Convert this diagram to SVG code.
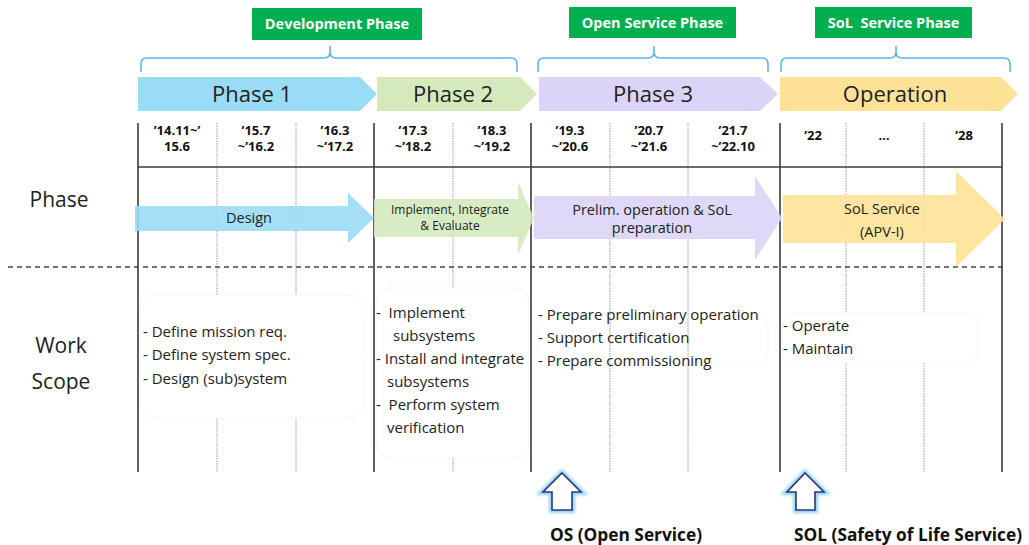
<svg xmlns="http://www.w3.org/2000/svg" width="1029" height="545" viewBox="0 0 1029 545">
  <defs>
    <style>
      text { font-family: "Open Sans", "Noto Sans", "DejaVu Sans", sans-serif; fill: #222; }
      .tag { fill: #00b050; }
      .tagtxt { fill: #fff; font-weight: bold; font-size: 14.5px; text-anchor: middle; }
      .brace { fill: none; stroke: #5bb7e5; stroke-width: 1.6; }
      .phase { font-size: 22px; text-anchor: middle; fill: #222; }
      .date { font-size: 13px; font-weight: bold; text-anchor: middle; fill: #111; }
      .solid { stroke: #3a3a3a; stroke-width: 1.6; }
      .dot { stroke: #9a9a9a; stroke-width: 1; stroke-dasharray: 1.5 1; }
      .row { font-size: 21px; text-anchor: middle; fill: #222; }
      .arrtxt { font-size: 14.5px; text-anchor: middle; fill: #222; }
      .small { font-size: 12px; text-anchor: middle; fill: #222; }
      .scope { font-size: 15px; fill: #222; }
      .card { fill: #fff; stroke: #f5f5f5; stroke-width: 1; }
      .up { fill: #fff; stroke: #2e3580; stroke-width: 1.6; stroke-linejoin: miter; }
      .glow { fill: none; stroke: #8fd3f0; stroke-width: 6; filter: url(#soft); }
      .foot { font-size: 17.3px; font-weight: bold; fill: #111; }
    </style>
    <filter id="soft" x="-30%" y="-30%" width="160%" height="160%">
      <feGaussianBlur stdDeviation="1.6"/>
    </filter>
  </defs>

  <!-- service period tags -->
  <g id="tag-development">
    <rect class="tag" x="252" y="8" width="170" height="32"/>
    <text class="tagtxt" x="337" y="29">Development Phase</text>
  </g>
  <g id="tag-open-service">
    <rect class="tag" x="569" y="7" width="167" height="31"/>
    <text class="tagtxt" x="652.5" y="28">Open Service Phase</text>
  </g>
  <g id="tag-sol-service">
    <rect class="tag" x="815" y="7" width="157" height="31"/>
    <text class="tagtxt" x="893.5" y="28" xml:space="preserve">SoL  Service Phase</text>
  </g>

  <!-- braces under the tags -->
  <g id="braces">
    <path class="brace" d="M141,72 V64 Q141,58 147,58 H324 Q330,58 330,52 V46 M330,52 Q330,58 336,58 H511 Q517,58 517,64 V72"/>
    <path class="brace" d="M538,72 V64 Q538,58 544,58 H648 Q654,58 654,52 V46 M654,52 Q654,58 660,58 H762 Q768,58 768,64 V72"/>
    <path class="brace" d="M781,72 V64 Q781,58 787,58 H890 Q896,58 896,52 V46 M896,52 Q896,58 902,58 H1004 Q1010,58 1010,64 V72"/>
  </g>

  <!-- phase chevrons -->
  <g id="phase-1">
    <polygon points="138,77 360,77 377,94 360,111 138,111" fill="#9adcf6"/>
    <text class="phase" x="252" y="102">Phase 1</text>
  </g>
  <g id="phase-2">
    <polygon points="377,77 520,77 537,94 520,111 377,111" fill="#d4eabd"/>
    <text class="phase" x="453" y="102">Phase 2</text>
  </g>
  <g id="phase-3">
    <polygon points="539,77 760,77 778,94 760,111 539,111" fill="#dcd4f8"/>
    <text class="phase" x="653" y="102">Phase 3</text>
  </g>
  <g id="phase-operation">
    <polygon points="780,77 1001,77 1018,94 1001,111 780,111" fill="#fee298"/>
    <text class="phase" x="895" y="102">Operation</text>
  </g>

  <!-- timeline grid -->
  <g id="grid">
    <line class="dot" x1="217" y1="123" x2="217" y2="472"/>
    <line class="dot" x1="296" y1="123" x2="296" y2="472"/>
    <line class="dot" x1="453" y1="123" x2="453" y2="472"/>
    <line class="dot" x1="610" y1="123" x2="610" y2="472"/>
    <line class="dot" x1="688" y1="123" x2="688" y2="472"/>
    <line class="dot" x1="846" y1="123" x2="846" y2="472"/>
    <line class="dot" x1="924" y1="123" x2="924" y2="472"/>
    <line class="solid" x1="138" y1="123" x2="138" y2="472"/>
    <line class="solid" x1="374" y1="123" x2="374" y2="472"/>
    <line class="solid" x1="531" y1="123" x2="531" y2="472"/>
    <line class="solid" x1="780" y1="123" x2="780" y2="472"/>
    <line class="solid" x1="1002" y1="123" x2="1002" y2="472"/>
    <line class="solid" x1="138" y1="167" x2="1002" y2="167"/>
    <line x1="8" y1="267" x2="1003" y2="267" stroke="#444" stroke-width="1.3" stroke-dasharray="5 4"/>
  </g>

  <!-- period headings -->
  <g id="dates">
    <text class="date" x="177" y="135">’14.11~’</text>
    <text class="date" x="177" y="151">15.6</text>
    <text class="date" x="256" y="135">’15.7</text>
    <text class="date" x="256" y="151">~’16.2</text>
    <text class="date" x="335" y="135">’16.3</text>
    <text class="date" x="335" y="151">~’17.2</text>
    <text class="date" x="413" y="135">’17.3</text>
    <text class="date" x="413" y="151">~’18.2</text>
    <text class="date" x="492" y="135">’18.3</text>
    <text class="date" x="492" y="151">~’19.2</text>
    <text class="date" x="570" y="135">’19.3</text>
    <text class="date" x="570" y="151">~’20.6</text>
    <text class="date" x="649" y="135">’20.7</text>
    <text class="date" x="649" y="151">~’21.6</text>
    <text class="date" x="733" y="135">’21.7</text>
    <text class="date" x="733" y="151">~’22.10</text>
    <text class="date" x="813" y="140">’22</text>
    <text class="date" x="884" y="140">…</text>
    <text class="date" x="964" y="140">’28</text>
  </g>

  <!-- row labels -->
  <g id="label-phase">
    <text class="row" x="59" y="207">Phase</text>
  </g>
  <g id="label-work-scope">
    <text class="row" x="61" y="353">Work</text>
    <text class="row" x="61" y="389">Scope</text>
  </g>

  <!-- phase activity arrows -->
  <g id="arrow-design">
    <polygon points="135,206 348,206 348,193 374,218 348,243 348,231 135,231" fill="#9adcf6" fill-opacity="0.9"/>
    <text class="arrtxt" x="249" y="223">Design</text>
  </g>
  <g id="arrow-implement">
    <polygon points="374,199 518,199 518,182 534,218 518,255 518,237 374,237" fill="#d4eabd" fill-opacity="0.9"/>
    <text class="small" x="450" y="214">Implement, Integrate</text>
    <text class="small" x="450" y="230">&amp; Evaluate</text>
  </g>
  <g id="arrow-prelim">
    <polygon points="534,196 755,196 755,176 782,218 755,260 755,239 534,239" fill="#dcd4f8" fill-opacity="0.9"/>
    <text class="arrtxt" x="652" y="215">Prelim. operation &amp; SoL</text>
    <text class="arrtxt" x="652" y="233">preparation</text>
  </g>
  <g id="arrow-sol-service">
    <polygon points="783,195 956,195 956,171 1005,219 956,267 956,243 783,243" fill="#fee298" fill-opacity="0.9"/>
    <text class="arrtxt" x="882" y="214">SoL Service</text>
    <text class="arrtxt" x="882" y="237">(APV-I)</text>
  </g>

  <!-- work scope cards -->
  <g id="scope-phase-1">
    <rect class="card" x="140" y="295" width="223" height="123" rx="14"/>
    <text class="scope" x="143" y="337">- Define mission req.</text>
    <text class="scope" x="143" y="360">- Define system spec.</text>
    <text class="scope" x="143" y="384">- Design (sub)system</text>
  </g>
  <g id="scope-phase-2">
    <rect class="card" x="376" y="288" width="153" height="170" rx="14"/>
    <text class="scope" x="376" y="318" xml:space="preserve">-  Implement</text>
    <text class="scope" x="393" y="341">subsystems</text>
    <text class="scope" x="376" y="364">- Install and integrate</text>
    <text class="scope" x="387" y="387">subsystems</text>
    <text class="scope" x="376" y="410" xml:space="preserve">-  Perform system</text>
    <text class="scope" x="387" y="433">verification</text>
  </g>
  <g id="scope-phase-3">
    <rect x="538" y="317" width="230" height="45" rx="10" fill="none" stroke="#f6f6f6"/>
    <text class="scope" x="538" y="320">- Prepare preliminary operation</text>
    <text class="scope" x="538" y="343">- Support certification</text>
    <text class="scope" x="538" y="366">- Prepare commissioning</text>
  </g>
  <g id="scope-operation">
    <rect class="card" x="782" y="313" width="196" height="50" rx="10"/>
    <text class="scope" x="783" y="331">- Operate</text>
    <text class="scope" x="783" y="354">- Maintain</text>
  </g>

  <!-- service start markers -->
  <g id="marker-os">
    <path class="glow" d="M562,473 L581,492 L572,492 L572,510 L552,510 L552,492 L543,492 Z"/>
    <path class="up" d="M562,473 L581,492 L572,492 L572,510 L552,510 L552,492 L543,492 Z"/>
    <text class="foot" x="550" y="541">OS (Open Service)</text>
  </g>
  <g id="marker-sol">
    <path class="glow" d="M805,473 L824,492 L815,492 L815,510 L796,510 L796,492 L787,492 Z"/>
    <path class="up" d="M805,473 L824,492 L815,492 L815,510 L796,510 L796,492 L787,492 Z"/>
    <text class="foot" x="794" y="541">SOL (Safety of Life Service)</text>
  </g>
</svg>
